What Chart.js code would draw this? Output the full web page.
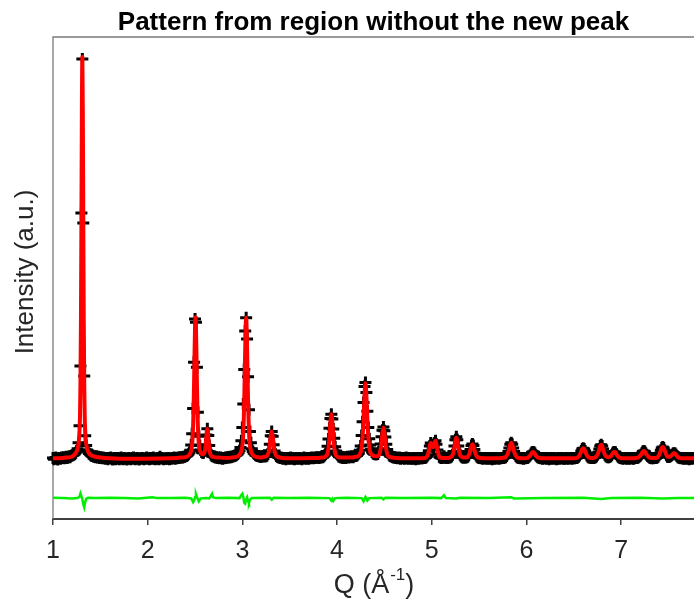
<!DOCTYPE html>
<html>
<head>
<meta charset="utf-8">
<style>
html,body{margin:0;padding:0;background:#fff;}
canvas{display:block;}
</style>
<script src="https://cdn.jsdelivr.net/npm/chart.js@4.4.1/dist/chart.umd.min.js"></script>
</head>
<body>
<canvas id="c" width="694" height="601"></canvas>
<script>
// ---------- texts ----------
const titleText = 'Pattern from region without the new peak';
const yTitleText = 'Intensity (a.u.)';
const xTitleMain = 'Q (Å';
const xTitleSup = '-1';
const xTitleEnd = ')';
const xTickValues = [1, 2, 3, 4, 5, 6, 7];

// ---------- observed pattern (black +), Q = 1.00 + 0.01*i, intensity in 1/1000 of strongest peak ----------
const qStart = 1.00;
const qStep = 0.01;
const obsIntensity = [
  2,-1,1,3,0,-2,1,2,0,3,2,4,1,3,5,2,4,6,4,7,            // 1.00-1.19
  8,9,10,12,15,19,25,40,82,231,612,995,587,206,57,33,22,17,13,11, // 1.20-1.39
  9,7,8,5,6,4,6,3,5,2,4,3,1,3,2,0,2,1,-1,2,             // 1.40
  1,3,0,-2,1,2,-1,0,2,1,-1,1,3,0,-1,2,0,1,-2,0,         // 1.60
  2,1,-1,0,2,3,0,-1,1,2,0,-2,1,0,2,1,-1,0,1,3,          // 1.80
  0,1,-1,2,0,1,3,0,-1,1,0,2,-1,5,1,2,0,-1,1,0,          // 2.00
  1,0,2,-1,1,0,2,1,3,0,2,1,3,2,4,3,4,3,5,5,             // 2.20
  6,7,9,11,15,21,34,62,125,240,348,340,228,116,56,33,22,17,15,15, // 2.40
  20,35,59,75,58,33,17,10,7,6,5,4,3,4,2,3,1,3,2,0,      // 2.60
  2,1,3,2,4,4,3,5,4,5,6,6,7,8,10,12,15,20,28,45,        // 2.80
  78,136,222,318,351,298,204,122,68,40,25,18,14,12,9,8,7,6,6,5, // 3.00
  5,6,6,6,6,6,8,12,20,36,57,68,56,35,19,11,7,5,4,3,     // 3.20
  2,3,1,0,2,1,-1,1,2,0,1,3,0,2,1,-1,0,2,1,0,            // 3.40
  1,2,0,-1,1,3,1,0,2,1,0,2,1,3,2,1,3,2,3,4,             // 3.60
  3,2,4,3,5,4,6,9,12,18,31,49,76,100,111,99,74,51,30,19, // 3.80
  12,9,5,6,3,5,2,4,3,2,4,5,3,5,4,6,5,4,6,7,             // 4.00
  7,8,11,14,21,32,58,92,140,180,190,165,118,78,50,34,23,17,14,12, // 4.20
  11,11,11,12,17,25,37,55,71,79,70,54,36,23,15,10,7,6,5,4, // 4.40
  3,4,2,3,1,2,3,0,2,1,2,0,1,3,1,0,2,1,0,1,              // 4.60
  0,2,1,-1,1,2,0,1,2,1,1,2,3,2,4,6,10,20,32,39,         // 4.80
  35,29,30,39,45,36,22,12,5,3,2,2,3,6,3,2,2,2,3,4,      // 5.00
  4,6,10,18,32,47,55,47,32,18,10,6,4,3,3,4,3,4,5,8,     // 5.20
  14,23,33,37,33,23,14,8,5,3,2,2,1,2,0,1,2,1,0,2,       // 5.40
  1,0,2,1,-1,1,2,0,1,2,1,0,2,1,2,2,2,3,4,7,             // 5.60
  11,18,27,36,40,36,27,18,11,7,4,3,2,2,1,2,1,0,2,1,     // 5.80
  2,2,4,6,9,13,16,17,16,13,9,6,4,3,2,1,2,0,1,2,         // 6.00
  1,0,2,1,-1,1,2,0,1,2,0,1,-1,1,2,0,1,2,1,0,            // 6.20
  1,0,2,1,0,1,2,1,0,2,1,1,2,2,3,5,8,13,19,24,           // 6.40
  26,24,19,13,8,5,3,3,3,2,2,2,3,4,6,10,16,24,32,35,     // 6.60
  32,24,16,10,6,5,4,4,5,6,9,13,16,17,16,12,8,5,3,2,     // 6.80
  1,2,0,1,2,1,0,1,2,0,1,2,1,0,1,2,2,2,3,5,              // 7.00
  7,10,14,18,19,18,14,10,7,5,3,2,1,2,1,2,2,2,3,5,       // 7.20
  9,14,21,27,29,27,21,14,9,5,5,5,6,8,10,13,14,13,10,7,  // 7.40
  4,3,2,1,2,1,0,2,1,0,2,1,-1,1,2,0,1,2                  // 7.60-7.77
];

// ---------- calculated fit (red), [Q, intensity] ----------
const calcPoints = [
  [1.00,1],[1.10,2],[1.15,3],[1.20,5],[1.22,9],[1.24,14],[1.26,25],[1.27,38],[1.28,70],[1.285,105],[1.29,187],[1.295,340],[1.30,580],[1.305,860],[1.31,1000],[1.315,860],[1.32,580],[1.325,340],[1.33,187],[1.335,105],[1.34,70],[1.35,38],[1.36,25],[1.38,14],[1.40,9],[1.45,5],[1.50,3],[1.60,1],[1.70,0],
  [2.30,2],[2.35,3],[2.40,4],[2.42,6],[2.44,10],[2.45,14],[2.46,20],[2.465,26],[2.47,37],[2.475,55],[2.48,84],[2.485,128],[2.49,190],[2.495,262],[2.50,326],[2.505,352],[2.51,326],[2.515,262],[2.52,190],[2.525,128],[2.53,84],[2.535,55],[2.54,37],[2.545,26],[2.55,22],[2.56,16],[2.57,12],[2.58,11],[2.59,12],[2.60,15],[2.61,28],[2.615,40],[2.62,55],[2.625,69],[2.63,74],[2.635,68],[2.64,54],[2.645,39],[2.65,26],[2.66,13],[2.67,8],[2.68,6],[2.70,4],[2.75,3],
  [2.84,2],[2.89,3],[2.92,4],[2.94,5],[2.96,8],[2.97,10],[2.98,14],[2.99,20],[3.00,33],[3.005,46],[3.01,68],[3.015,100],[3.02,147],[3.025,207],[3.03,272],[3.035,326],[3.04,351],[3.045,326],[3.05,272],[3.055,207],[3.06,147],[3.065,100],[3.07,68],[3.075,46],[3.08,33],[3.09,20],[3.10,14],[3.11,10],[3.12,8],[3.14,5],[3.16,4],[3.19,3],
  [3.23,5],[3.26,7],[3.27,11],[3.28,19],[3.29,35],[3.30,56],[3.31,68],[3.32,56],[3.33,35],[3.34,19],[3.35,11],[3.36,7],[3.38,4],[3.42,2],[3.50,1],
  [3.75,2],[3.80,2],[3.84,3],[3.86,3],[3.87,4],[3.88,6],[3.89,8],[3.90,14],[3.91,29],[3.92,56],[3.93,91],[3.94,111],[3.95,91],[3.96,56],[3.97,29],[3.98,14],[3.99,8],[4.00,6],[4.01,4],[4.02,3],[4.06,3],[4.10,3],
  [4.15,3],[4.18,4],[4.20,5],[4.21,5],[4.22,6],[4.23,8],[4.24,11],[4.25,16],[4.26,28],[4.27,54],[4.28,100],[4.29,156],[4.30,188],[4.31,156],[4.32,100],[4.33,54],[4.34,29],[4.35,17],[4.36,12],[4.37,10],[4.38,8],[4.39,7],[4.40,7],[4.41,6],[4.42,6],[4.43,7],[4.44,9],[4.45,13],[4.46,24],[4.47,42],[4.48,65],[4.49,78],[4.50,65],[4.51,42],[4.52,23],[4.53,12],[4.54,7],[4.55,5],[4.56,4],[4.58,3],[4.62,2],[4.70,1],
  [4.90,1],[4.93,2],[4.94,3],[4.95,6],[4.96,10],[4.97,20],[4.98,32],[4.99,39],[5.00,35],[5.01,29],[5.02,30],[5.03,39],[5.04,45],[5.05,36],[5.06,22],[5.07,12],[5.08,5],[5.09,3],[5.11,2],[5.15,2],
  [5.18,2],[5.19,3],[5.20,4],[5.21,6],[5.22,9],[5.23,17],[5.24,30],[5.25,45],[5.26,52],[5.27,45],[5.28,30],[5.29,17],[5.30,9],[5.31,6],[5.32,4],[5.33,3],[5.34,3],[5.36,3],[5.37,3],[5.38,5],[5.39,8],[5.40,14],[5.41,23],[5.42,32],[5.43,36],[5.44,32],[5.45,23],[5.46,14],[5.47,8],[5.48,5],[5.49,3],[5.52,2],[5.60,1],
  [5.70,1],[5.74,2],[5.77,3],[5.78,4],[5.79,7],[5.80,11],[5.81,18],[5.82,27],[5.83,36],[5.84,40],[5.85,36],[5.86,27],[5.87,18],[5.88,11],[5.89,7],[5.90,4],[5.92,2],[5.96,1],
  [5.99,1],[6.01,2],[6.02,3],[6.03,5],[6.04,8],[6.05,12],[6.06,15],[6.07,17],[6.08,15],[6.09,12],[6.10,8],[6.11,5],[6.12,3],[6.14,2],[6.18,1],
  [6.45,1],[6.51,1],[6.53,2],[6.54,3],[6.55,5],[6.56,8],[6.57,13],[6.58,19],[6.59,24],[6.60,26],[6.61,24],[6.62,19],[6.63,13],[6.64,8],[6.65,5],[6.66,3],[6.68,2],
  [6.71,2],[6.72,3],[6.73,4],[6.74,6],[6.75,10],[6.76,16],[6.77,24],[6.78,32],[6.79,35],[6.80,32],[6.81,24],[6.82,16],[6.83,10],[6.84,6],[6.85,5],[6.86,4],[6.87,4],[6.88,5],[6.89,6],[6.90,9],[6.91,13],[6.92,16],[6.93,17],[6.94,16],[6.95,12],[6.96,8],[6.97,5],[6.98,3],[7.00,2],[7.05,1],
  [7.12,1],[7.16,2],[7.18,3],[7.19,5],[7.20,7],[7.21,10],[7.22,14],[7.23,18],[7.24,19],[7.25,18],[7.26,14],[7.27,10],[7.28,7],[7.29,5],[7.30,3],[7.32,2],
  [7.35,2],[7.37,2],[7.38,3],[7.39,5],[7.40,9],[7.41,14],[7.42,21],[7.43,27],[7.44,29],[7.45,27],[7.46,21],[7.47,14],[7.48,9],[7.49,5],[7.50,5],[7.51,5],[7.52,6],[7.53,8],[7.54,10],[7.55,13],[7.56,14],[7.57,13],[7.58,10],[7.59,7],[7.60,4],[7.62,2],[7.66,1],[7.77,1]
];

// ---------- difference curve (green, offset below), [Q, intensity] ----------
const diffPoints = [
  [1.00,-97],[1.10,-98],[1.20,-99],[1.26,-98],[1.28,-94],[1.29,-86],[1.30,-93],[1.31,-101],[1.32,-113],[1.33,-121],[1.34,-108],[1.35,-100],[1.37,-97],[1.45,-98],[1.60,-97],[1.75,-98],[1.90,-99],[2.05,-96],[2.10,-98],[2.25,-98],
  [2.40,-97],[2.46,-99],[2.48,-108],[2.49,-104],[2.50,-96],[2.51,-88],[2.52,-95],[2.54,-106],[2.56,-99],[2.62,-98],[2.65,-99],[2.67,-91],[2.68,-87],[2.69,-96],[2.72,-98],[2.85,-97],
  [2.97,-98],[2.99,-90],[3.00,-87],[3.01,-95],[3.02,-110],[3.03,-112],[3.04,-101],[3.05,-96],[3.06,-106],[3.07,-110],[3.08,-102],[3.10,-98],[3.29,-97],[3.31,-102],[3.33,-97],[3.50,-98],[3.70,-97],
  [3.92,-98],[3.94,-104],[3.95,-100],[3.96,-105],[3.98,-98],[4.10,-97],[4.26,-98],[4.28,-106],[4.29,-101],[4.30,-95],[4.31,-98],[4.32,-104],[4.34,-98],[4.47,-97],[4.49,-101],[4.51,-97],[4.70,-98],
  [5.00,-97],[5.10,-98],[5.13,-91],[5.15,-98],[5.26,-99],[5.30,-97],[5.60,-98],[5.84,-96],[5.87,-99],[6.20,-98],[6.60,-97],[6.79,-100],[6.90,-98],[7.20,-97],[7.44,-99],[7.60,-98],[7.77,-98]
];

// ---------- build datasets ----------
const obsData = obsIntensity.map((v, i) => ({ x: +(qStart + i * qStep).toFixed(2), y: v }));
const calcData = calcPoints.map(p => ({ x: p[0], y: p[1] }));
const diffData = diffPoints.map(p => ({ x: p[0], y: p[1] }));

const FF = '"Liberation Sans", Arial, Helvetica, sans-serif';

const decor = {
  id: 'decor',
  beforeDatasetsDraw(chart) {
    const { ctx, chartArea: a } = chart;
    ctx.save();
    ctx.strokeStyle = '#7a7a7a';
    ctx.lineWidth = 1.3;
    ctx.beginPath();
    ctx.moveTo(a.left, a.bottom);
    ctx.lineTo(a.left, a.top);
    ctx.lineTo(chart.width, a.top);
    ctx.stroke();
    ctx.restore();
  },
  afterDraw(chart) {
    const { ctx, chartArea: a } = chart;
    const cx = (a.left + a.right) / 2;
    ctx.save();
    // title
    ctx.fillStyle = '#000';
    ctx.font = 'bold 26px ' + FF;
    ctx.textAlign = 'center';
    ctx.textBaseline = 'alphabetic';
    ctx.fillText(titleText, cx, 30);
    // y title
    ctx.save();
    ctx.fillStyle = '#262626';
    ctx.font = '26px ' + FF;
    ctx.translate(33, (a.top + a.bottom) / 2 - 6);
    ctx.rotate(-Math.PI / 2);
    ctx.textAlign = 'center';
    ctx.fillText(yTitleText, 0, 0);
    ctx.restore();
    // x title with superscript
    ctx.fillStyle = '#262626';
    ctx.textAlign = 'left';
    ctx.font = '27px ' + FF;
    const w1 = ctx.measureText(xTitleMain).width;
    const w3 = ctx.measureText(xTitleEnd).width;
    ctx.font = '17px ' + FF;
    const w2 = ctx.measureText(xTitleSup).width;
    const x0 = cx - (w1 + w2 + w3) / 2;
    const yb = 593;
    ctx.font = '27px ' + FF;
    ctx.fillText(xTitleMain, x0, yb);
    ctx.font = '17px ' + FF;
    ctx.fillText(xTitleSup, x0 + w1 + 1, yb - 13);
    ctx.font = '27px ' + FF;
    ctx.fillText(xTitleEnd, x0 + w1 + w2 + 1, yb);
    ctx.restore();
  }
};

new Chart(document.getElementById('c'), {
  type: 'line',
  data: {
    datasets: [
      {
        label: 'Calculated',
        data: calcData,
        borderColor: '#ff0000',
        borderWidth: 4,
        pointRadius: 0,
        cubicInterpolationMode: 'monotone',
        borderJoinStyle: 'round',
        borderCapStyle: 'round',
        fill: false,
        order: 0
      },
      {
        label: 'Difference',
        data: diffData,
        borderColor: '#00ee00',
        borderWidth: 2.5,
        pointRadius: 0,
        tension: 0,
        fill: false,
        order: 1
      },
      {
        label: 'Observed',
        data: obsData,
        showLine: false,
        pointStyle: 'cross',
        pointRadius: 6,
        pointBorderWidth: 3,
        pointBorderColor: '#000',
        pointBackgroundColor: '#000',
        borderColor: '#000',
        clip: false,
        order: 2
      }
    ]
  },
  options: {
    responsive: false,
    animation: false,
    devicePixelRatio: 1,
    parsing: false,
    layout: { autoPadding: false, padding: { left: 53, top: 37, right: 0, bottom: 24 } },
    plugins: {
      legend: { display: false },
      tooltip: { enabled: false },
      title: { display: false }
    },
    scales: {
      x: {
        type: 'linear',
        min: 1,
        max: 7.77,
        afterBuildTicks: (scale) => { scale.ticks = xTickValues.map(v => ({ value: v })); },
        ticks: {
          font: { family: FF, size: 25 },
          color: '#262626',
          padding: 11,
          maxRotation: 0,
          autoSkip: false,
          callback: (v) => String(v)
        },
        grid: {
          display: true,
          drawOnChartArea: false,
          drawTicks: true,
          tickLength: 6,
          color: '#404040',
          lineWidth: 1.5
        },
        border: { display: true, color: '#404040', width: 2 }
      },
      y: {
        display: false,
        min: -150,
        max: 1050
      }
    }
  },
  plugins: [decor]
});
</script>
</body>
</html>
